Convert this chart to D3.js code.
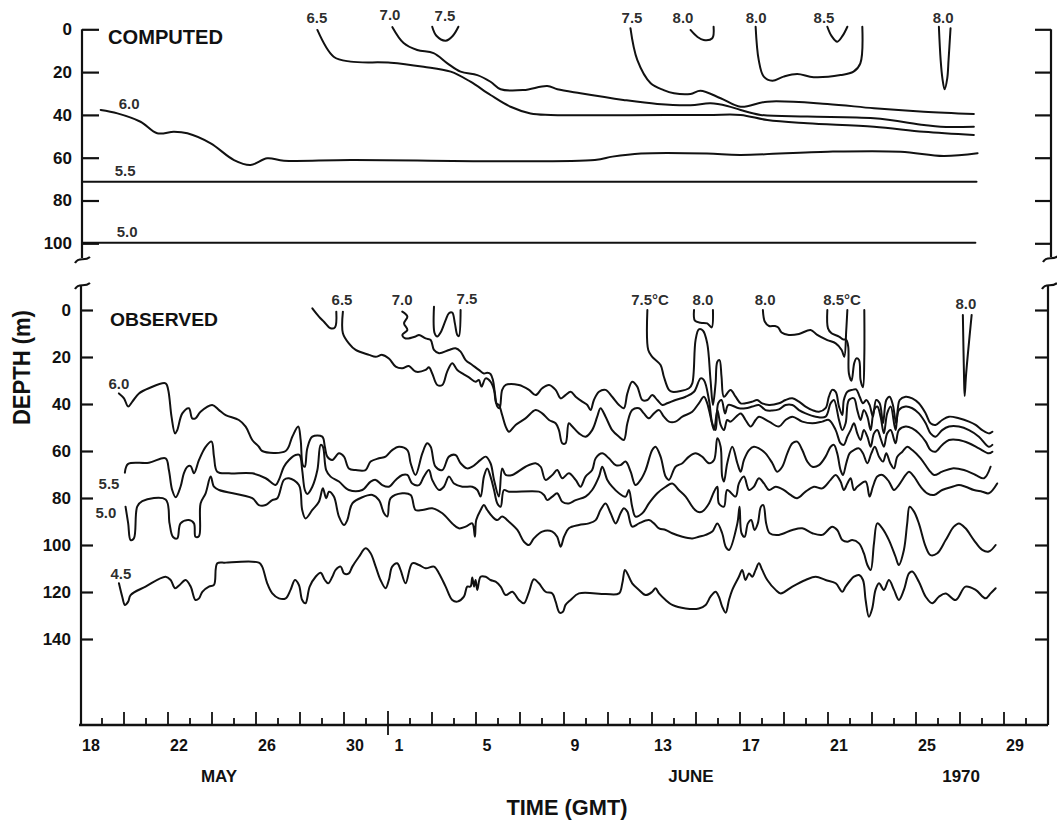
<!DOCTYPE html>
<html>
<head>
<meta charset="utf-8">
<title>Isotherm depths, computed and observed</title>
<script src="https://cdnjs.cloudflare.com/ajax/libs/d3/7.8.5/d3.min.js"></script>
<style>
    body { margin:0; background:white; }
    svg text { font-family:"Liberation Sans", Arial, sans-serif; fill:#111; }
    .iso { fill:none; stroke:#111; stroke-width:2; stroke-linejoin:round; stroke-linecap:round; }
    .frame { fill:none; stroke:#111; stroke-width:2.2; }
</style>
</head>
<body>
<div id="chart"></div>
<script>
// all series: [day since 18 May 1970 00:00 GMT, depth in m]

// ---- computed isotherms ----
var comp50 = [[0.15,99.7],[40.7,99.7]];
var comp55 = [[0.15,71.2],[40.75,71.2]];
var comp60 = [[0.94,37.7],[1.70,39.3],[2.75,43.2],[3.51,48.6],[4.27,47.9],[4.88,48.6],[5.94,53.3],[7.0,61.1],[7.75,63.4],[8.51,60.3],[9.27,61.4],[12.3,61.1],[23.4,61.1],[24.2,59.5],[25.5,58.0],[28.5,58.0],[30.0,58.7],[34.0,57.2],[37.3,57.2],[39.25,59.2],[40.8,57.9]];
var comp65 = [[10.79,0.3],[11.53,12.8],[12.3,15.1],[14.12,15.6],[15.62,17.5],[16.85,19.8],[17.75,24.5],[18.66,30.7],[19.57,36.2],[20.48,39.3],[21.39,40.0],[28.5,40.0],[30.03,40.0],[31.24,42.4],[33.06,43.9],[36.09,45.5],[38.36,47.9],[40.63,49.4]];
var comp70 = [[14.2,-1.0],[14.71,6.4],[15.33,9.7],[16.07,11.1],[16.7,15.9],[17.3,19.8],[18.06,21.4],[18.66,24.5],[19.12,28.0],[20.16,28.4],[21.24,26.5],[21.7,28.0],[22.75,29.9],[24.7,33.0],[26.24,34.9],[27.75,35.5],[28.66,34.6],[29.42,35.8],[30.03,37.7],[30.94,40.0],[33.06,40.8],[36.09,41.6],[38.36,44.7],[39.12,45.5],[40.63,45.5]];
var comp75a = [[16.01,-1.2],[16.2,3.0],[16.62,5.3],[16.94,3.1],[17.2,-1.2]];
var comp75b = [[25.02,-0.5],[25.33,14.3],[25.94,25.2],[26.53,28.4],[27.0,29.9],[27.75,30.2],[28.2,28.7],[29.12,32.2],[30.03,36.2],[31.24,33.8],[33.97,34.9],[36.09,36.9],[38.36,38.5],[40.63,39.6]];
var comp80a = [[27.75,0.3],[28.07,3.6],[28.35,5.0],[28.74,4.2],[28.8,-1.2]];
var comp80b = [[30.71,-1.2],[30.85,14.3],[31.08,22.1],[31.47,24.0],[31.98,22.1],[32.6,20.9],[33.35,22.4],[34.57,21.4],[35.16,19.8],[35.47,15.9],[35.56,-1.2]];
var comp85 = [[33.97,-1.2],[34.16,3.1],[34.42,5.8],[34.66,3.1],[34.88,-1.2]];
var comp80c = [[39.04,-1.2],[39.12,14.3],[39.2,22.9],[39.3,28.0],[39.42,22.9],[39.48,14.3],[39.57,-0.5]];

// ---- observed isotherms ----
var obs45 = [[1.77,116.3],[1.92,122.0],[2.04,125.5],[2.19,124.1],[2.30,121.3],[2.98,117.7],[3.89,113.5],[4.12,114.9],[4.32,118.4],[4.53,117.0],[4.80,114.9],[5.03,117.7],[5.25,123.4],[5.41,122.7],[5.56,119.9],[5.86,117.7],[6.09,117.0],[6.24,107.8],[6.62,107.5],[8.13,107.5],[8.28,109.2],[8.51,116.3],[8.74,120.6],[9.04,122.7],[9.35,122.7],[9.57,119.1],[9.77,114.9],[9.95,117.0],[10.10,123.4],[10.25,124.8],[10.44,117.7],[10.71,113.5],[10.94,111.8],[11.13,114.9],[11.28,116.3],[11.47,113.5],[11.62,110.6],[11.85,109.2],[12.00,112.1],[12.22,112.1],[12.38,109.2],[12.68,105.0],[12.98,101.4],[13.21,103.5],[13.44,109.2],[13.66,114.9],[13.89,118.4],[14.04,114.9],[14.19,109.2],[14.42,107.8],[14.57,110.6],[14.80,116.3],[15.10,107.8],
    [15.41,108.5],[15.71,109.9],[16.09,109.2],[16.32,112.1],[16.62,117.7],[16.92,123.4],[17.15,124.1],[17.45,122.0],[17.60,117.7],[17.75,117.7],[17.83,113.8],[17.91,117.7],[17.98,114.9],[18.06,119.1],[18.21,113.5],[18.44,113.5],[18.66,114.9],[18.89,115.6],[19.12,117.7],[19.35,121.3],[19.65,119.9],[19.95,123.4],[20.18,124.8],[20.41,119.9],[20.63,114.6],[20.86,116.3],[21.16,119.9],[21.47,120.6],[21.62,124.1],[21.80,128.8],[21.95,128.4],[22.07,125.5],[22.30,123.4],[22.68,120.6],[23.89,120.9],[24.50,120.6],[24.65,116.3],[24.77,110.6],[24.88,112.1],[25.10,116.3],[25.41,119.1],[25.71,121.3],[26.01,119.9],[26.16,118.4],[26.32,120.6],[26.62,123.4],[26.92,125.5],[27.53,127.0],[28.13,127.0],[28.44,125.5],[28.66,122.0],[28.89,119.9],[29.04,122.0],[29.19,126.2],[29.35,128.8],[29.50,123.4],[29.65,119.1],
    [29.95,113.5],[30.10,110.6],[30.25,114.9],[30.41,112.1],[30.56,113.5],[30.71,110.6],[30.86,107.8],[31.01,110.6],[31.24,114.9],[31.62,119.1],[31.85,120.6],[32.38,117.7],[32.98,114.9],[33.44,113.5],[33.89,114.9],[34.35,116.3],[34.65,119.9],[34.80,117.7],[35.03,114.9],[35.18,113.5],[35.41,112.8],[35.59,114.9],[35.71,123.4],[35.86,130.5],[36.01,127.0],[36.16,119.1],[36.32,116.3],[36.54,119.1],[36.77,114.9],[37.00,119.1],[37.22,123.4],[37.45,119.1],[37.68,112.1],[37.83,111.3],[38.13,115.6],[38.44,122.0],[38.74,124.8],[39.04,122.0],[39.35,120.6],[39.80,123.4],[40.25,117.7],[40.71,119.1],[41.16,122.7],[41.39,120.6],[41.62,118.4]];
var obs50 = [[2.07,83.7],[2.19,90.8],[2.30,97.9],[2.45,97.2],[2.60,83.7],[2.83,81.3],[3.89,80.6],[4.07,90.8],[4.22,96.5],[4.42,97.2],[4.57,90.8],[4.95,89.4],[5.18,90.8],[5.25,96.5],[5.41,96.2],[5.48,82.3],[5.71,78.0],[5.94,70.9],[6.09,75.2],[6.32,76.6],[7.83,80.1],[8.13,83.0],[8.44,83.0],[8.74,80.9],[8.97,80.1],[9.27,72.3],[9.50,71.6],[9.95,74.5],[10.10,85.1],[10.25,88.7],[10.56,85.1],[10.86,81.6],[11.04,75.9],[11.19,80.1],[11.32,77.3],[11.54,79.4],[11.77,87.9],[12.00,91.5],[12.15,89.4],[12.38,82.3],[12.83,79.7],[13.29,78.7],[13.59,80.9],[13.82,86.5],[13.97,87.9],[14.12,80.1],[14.65,78.0],[15.03,78.7],[15.25,85.1],
    [15.56,85.1],[16.01,84.4],[16.47,86.5],[16.92,90.8],[17.22,92.9],[17.53,92.2],[17.83,90.8],[17.95,96.5],[18.01,89.4],[18.21,85.1],[18.36,83.0],[18.51,85.1],[18.74,87.9],[18.97,89.4],[19.19,87.9],[19.50,90.1],[19.88,93.6],[20.18,98.6],[20.41,100.0],[20.63,97.2],[21.01,94.3],[21.47,94.3],[21.69,96.5],[21.85,100.7],[22.00,96.5],[22.22,92.9],[22.68,91.5],[23.13,90.8],[23.44,89.4],[23.66,85.1],[23.89,82.3],[24.12,86.5],[24.35,90.8],[24.57,86.5],[24.72,84.4],[24.88,85.8],[25.10,92.2],[25.41,90.8],[25.86,89.4],[26.09,90.8],[26.32,92.9],[26.62,93.6],[26.92,95.0],[27.38,96.5],[27.83,97.2],[28.13,96.5],[28.44,95.7],[28.74,94.3],[28.97,90.8],[29.19,95.0],[29.35,100.7],[29.50,102.1],
    [29.88,90.8],[29.98,83.7],[30.07,95.0],[30.21,96.5],[30.36,90.8],[30.51,89.4],[30.66,93.6],[30.81,90.8],[30.95,83.7],[31.06,83.0],[31.19,90.8],[31.35,95.0],[31.77,95.7],[32.38,93.6],[32.83,92.9],[33.29,95.0],[33.74,95.7],[34.19,92.2],[34.42,93.6],[34.65,97.9],[34.88,98.6],[35.10,97.9],[35.41,99.3],[35.63,103.5],[35.79,108.5],[35.94,110.6],[36.09,99.3],[36.24,90.8],[36.47,92.9],[36.77,97.9],[37.07,105.0],[37.22,108.5],[37.45,102.1],[37.60,90.8],[37.71,83.7],[37.91,85.8],[38.13,90.8],[38.44,100.7],[38.66,104.3],[38.97,103.5],[39.35,97.9],[39.72,92.2],[39.95,90.8],[40.25,92.9],[40.63,97.9],[41.01,102.1],[41.31,102.8],[41.62,100.0]];
var obs55 = [[2.04,69.2],[2.19,65.5],[3.13,65.0],[3.89,63.1],[4.04,68.1],[4.19,76.6],[4.35,79.7],[4.57,75.2],[4.72,69.5],[4.88,66.7],[5.03,66.4],[5.18,69.5],[5.41,63.8],[5.71,58.2],[5.98,56.0],[6.09,62.4],[6.24,68.8],[6.77,69.5],[7.83,69.5],[8.44,71.6],[8.89,74.5],[9.04,72.3],[9.27,66.7],[9.50,63.8],[9.80,61.7],[9.98,61.7],[10.10,68.1],[10.22,76.6],[10.33,78.3],[10.56,75.2],[10.79,68.1],[10.94,57.4],[11.04,58.2],[11.19,68.1],[11.39,70.9],[11.77,73.0],[12.22,76.6],[12.83,76.6],[13.21,73.0],[13.44,72.3],[13.74,74.5],[14.04,75.2],[14.35,72.3],[14.65,70.2],[14.88,70.2],[15.10,73.8],
    [15.41,74.5],[15.63,70.9],[15.86,68.1],[16.01,72.3],[16.32,76.6],[16.54,75.2],[16.77,70.9],[17.00,73.8],[17.38,75.2],[17.83,75.2],[18.06,76.6],[18.21,79.4],[18.36,70.9],[18.51,67.4],[18.66,70.9],[18.82,76.6],[18.97,82.3],[19.12,83.7],[19.27,76.6],[19.50,77.3],[20.86,77.3],[21.09,78.7],[21.24,80.9],[21.47,79.4],[21.69,78.0],[21.92,81.6],[22.22,82.3],[22.53,80.9],[22.98,79.4],[23.28,76.6],[23.59,70.9],[23.74,66.7],[23.97,72.3],[24.19,75.2],[24.50,78.0],[24.80,79.4],[24.95,76.6],[25.10,83.7],[25.25,87.9],[25.56,86.5],[25.86,82.3],[26.24,78.0],[26.62,75.2],[26.92,73.8],[27.22,76.6],[27.53,79.4],[27.83,83.7],[28.06,85.8],[28.28,85.8],[28.59,82.3],[28.82,77.3],[28.97,75.2],[29.04,82.3],[29.27,83.7],[29.42,76.6],
    [29.80,79.4],[29.95,73.8],[30.18,70.9],[30.41,76.6],[30.63,75.2],[30.86,71.6],[31.09,73.8],[31.32,76.6],[31.62,75.2],[32.00,76.6],[32.30,78.7],[32.60,80.1],[32.98,77.3],[33.36,75.2],[33.74,75.9],[34.12,72.3],[34.35,70.2],[34.57,73.0],[34.72,76.6],[34.88,73.8],[35.03,71.6],[35.18,76.6],[35.33,75.2],[35.71,73.0],[35.89,79.4],[36.04,75.2],[36.24,70.9],[36.47,70.2],[36.77,73.0],[37.00,76.6],[37.22,74.5],[37.53,70.2],[37.68,68.8],[37.91,70.9],[38.21,75.2],[38.51,78.0],[38.82,78.7],[39.19,76.6],[39.65,75.2],[39.95,74.5],[40.25,75.2],[40.63,76.6],[41.01,77.3],[41.31,78.0],[41.69,73.8]];
var obs60 = [[1.77,35.5],[2.00,37.6],[2.19,41.1],[2.38,39.0],[2.68,35.5],[3.13,33.3],[3.89,31.2],[4.01,34.0],[4.16,45.4],[4.32,52.5],[4.42,51.1],[4.65,44.0],[4.95,41.8],[5.10,46.1],[5.25,46.1],[5.48,43.3],[6.01,40.4],[6.32,42.6],[6.62,44.7],[7.22,46.8],[7.53,49.6],[7.83,55.3],[8.13,58.2],[8.28,60.0],[9.35,60.0],[9.65,53.9],[9.92,49.6],[10.03,55.3],[10.13,66.0],[10.22,66.7],[10.33,58.9],[10.56,53.9],[11.01,53.9],[11.13,58.2],[11.24,62.4],[11.47,63.8],[11.77,61.0],[12.00,62.4],[12.22,67.4],[12.53,68.1],[12.98,68.1],[13.21,64.5],[13.59,63.1],[13.89,62.4],[14.19,59.6],[14.50,58.2],[14.88,59.6],[15.03,65.2],[15.25,70.2],
    [15.56,61.0],[15.78,56.7],[15.94,58.2],[16.16,66.7],[16.47,68.1],[16.77,62.4],[17.07,61.7],[17.30,65.2],[17.60,67.4],[17.83,66.7],[18.21,63.8],[18.44,62.4],[18.66,65.2],[18.82,72.3],[19.04,79.4],[19.19,67.4],[19.35,70.2],[19.65,70.2],[20.25,66.7],[20.71,65.2],[20.94,66.7],[21.16,72.3],[21.47,70.2],[21.69,68.1],[21.92,71.6],[22.22,69.5],[22.53,72.3],[22.75,75.2],[22.98,70.9],[23.28,68.1],[23.44,63.1],[23.74,61.0],[24.04,63.1],[24.35,66.0],[24.57,66.0],[24.80,64.5],[25.03,68.8],[25.25,74.5],[25.48,72.3],[25.71,68.1],[26.01,59.6],[26.16,58.2],[26.39,62.4],[26.62,70.9],[26.77,72.3],[27.07,66.7],[27.38,65.2],[27.68,62.4],[27.98,61.0],[28.28,62.4],[28.59,65.2],[28.82,63.8],[28.97,54.6],[29.12,58.2],[29.19,70.9],[29.27,73.0],[29.42,65.2],
    [29.65,58.2],[29.88,65.2],[30.03,68.8],[30.18,63.8],[30.41,59.6],[30.63,58.2],[30.86,58.9],[31.16,61.0],[31.47,65.2],[31.69,68.8],[31.92,66.7],[32.15,61.0],[32.38,56.7],[32.60,56.0],[32.83,59.6],[33.06,64.5],[33.29,66.7],[33.59,66.0],[33.89,62.4],[34.12,58.2],[34.27,57.4],[34.42,61.0],[34.57,68.1],[34.68,70.2],[34.83,65.2],[34.98,61.0],[35.18,59.6],[35.41,58.9],[35.59,61.0],[35.79,65.2],[35.97,61.0],[36.13,58.2],[36.32,62.4],[36.50,64.5],[36.65,61.0],[36.83,65.2],[37.00,67.4],[37.15,62.4],[37.38,60.3],[37.60,58.2],[37.83,59.6],[38.21,63.1],[38.59,68.1],[38.82,70.2],[39.19,68.8],[39.65,67.4],[40.18,68.1],[40.71,70.2],[41.09,71.6],[41.39,66.7]];
var obs65a = [[10.56,-0.7],[10.86,2.8],[11.09,5.0],[11.39,7.8],[11.59,7.4],[11.65,0.7]];
var obs65 = [[11.95,0.7],[11.95,9.9],[12.22,14.2],[12.53,17.0],[13.14,19.1],[13.44,19.9],[13.74,19.1],[14.04,20.6],[14.35,24.1],[14.65,24.8],[14.95,23.8],[15.25,26.2],
    [15.71,25.5],[15.86,24.4],[16.01,27.0],[16.24,31.9],[16.47,31.9],[16.69,26.2],[16.92,22.7],[17.15,25.5],[17.38,27.0],[17.68,28.7],[17.98,30.5],[18.13,29.8],[18.25,32.6],[18.44,29.1],[18.66,30.5],[18.82,34.0],[18.92,39.7],[19.04,40.4],[19.19,44.7],[19.35,49.6],[19.50,51.8],[19.80,48.9],[20.25,46.1],[20.71,42.6],[21.01,44.0],[21.32,46.8],[21.62,48.2],[21.77,51.1],[21.92,56.7],[22.07,56.7],[22.22,48.2],[22.38,49.6],[22.68,52.5],[22.98,53.9],[23.28,51.1],[23.51,45.4],[23.66,41.8],[23.89,45.4],[24.19,51.1],[24.50,53.9],[24.72,55.3],[24.88,48.2],[25.10,42.6],[25.41,41.8],[25.63,44.0],[25.86,46.1],[26.09,44.0],[26.32,42.6],[26.54,45.4],[26.77,47.5],[27.07,47.5],[27.38,45.4],[27.83,43.3],[28.13,39.7],[28.36,36.9],[28.51,39.7],[28.66,45.4],[28.82,51.1],[28.97,42.6],[29.12,48.9],[29.27,51.1],[29.42,46.8],[29.57,47.5],
    [30.03,44.0],[30.25,46.8],[30.48,49.6],[30.71,46.8],[30.86,45.4],[31.32,47.5],[31.77,49.6],[32.07,46.8],[32.38,45.4],[32.83,47.5],[33.29,48.2],[33.74,47.5],[34.04,46.8],[34.35,51.1],[34.57,56.7],[34.72,57.4],[34.88,53.9],[35.03,51.1],[35.18,48.2],[35.33,52.5],[35.48,55.3],[35.63,51.1],[35.79,53.9],[35.94,58.2],[36.09,52.5],[36.24,51.1],[36.39,54.6],[36.54,58.2],[36.69,52.5],[36.85,51.1],[37.07,56.7],[37.22,51.1],[37.53,49.6],[37.83,50.4],[38.13,52.5],[38.44,56.0],[38.66,59.6],[38.89,60.3],[39.19,57.4],[39.50,55.3],[39.95,55.3],[40.41,56.7],[40.86,58.9],[41.31,61.0],[41.47,60.3]];
var obs70 = [[14.65,0.7],[14.88,2.8],[14.73,5.7],[14.88,8.5],[14.65,10.6],[14.80,12.1],[15.25,11.3],
    [15.41,10.6],[15.71,12.1],[15.94,12.8],[16.09,17.0],[16.32,18.4],[16.77,17.0],[17.07,16.3],[17.30,17.7],[17.53,21.3],[17.83,23.4],[18.13,25.5],[18.36,27.0],[18.51,26.7],[18.66,27.2],[18.77,29.8],[18.86,35.5],[18.97,41.1],[19.07,41.8],[19.19,34.0],[19.35,31.9],[19.95,31.9],[20.41,34.0],[20.71,36.2],[21.01,33.3],[21.32,31.9],[21.62,34.0],[21.85,37.6],[22.07,36.2],[22.30,34.8],[22.53,36.9],[22.83,39.0],[23.06,40.4],[23.21,42.6],[23.36,38.3],[23.59,34.8],[23.89,34.0],[24.19,36.9],[24.50,40.4],[24.72,41.8],[24.88,35.5],[25.10,30.5],[25.33,32.6],[25.56,38.3],[25.79,38.3],[26.01,36.2],[26.24,38.3],[26.47,40.4],[26.69,39.7],[27.07,38.3],[27.53,36.9],[27.91,34.8],[28.21,29.1],[28.36,29.8],[28.59,38.3],[28.74,48.2],[28.89,51.1],[29.01,39.7],[29.16,38.3],[29.32,44.0],[29.47,40.4],
    [29.95,41.8],[30.25,41.8],[30.56,41.1],[30.86,40.4],[31.16,42.6],[31.47,42.8],[31.77,42.3],[32.07,40.4],[32.38,40.4],[32.68,42.6],[32.98,44.0],[33.44,45.4],[33.89,45.4],[34.12,39.7],[34.27,38.3],[34.50,46.8],[34.65,51.1],[34.80,48.2],[34.95,38.3],[35.18,37.6],[35.33,42.6],[35.48,46.8],[35.63,42.6],[35.79,45.4],[35.94,51.1],[36.09,42.6],[36.24,41.1],[36.39,45.4],[36.54,52.5],[36.69,44.0],[36.85,41.1],[37.07,51.1],[37.22,42.6],[37.53,41.1],[37.83,41.8],[38.13,44.0],[38.44,48.2],[38.66,52.5],[38.89,53.9],[39.19,51.1],[39.50,49.6],[39.95,49.6],[40.41,51.1],[40.86,53.9],[41.31,58.2],[41.47,57.4]];
var obs75a = [[16.09,-1.4],[16.12,9.9],[16.24,11.3],[16.39,9.6],[16.62,4.3],[16.77,1.4],[16.92,1.1],[17.04,5.7],[17.15,10.6],[17.22,11.1],[17.30,0]];
var obs75 = [[25.79,0],[25.83,17.0],[26.01,19.9],[26.39,23.4],[26.54,28.4],[26.77,34.0],[26.92,34.8],[27.68,33.3],[27.83,31.2],[27.98,12.8],[28.13,8.2],[28.32,8.8],[28.51,14.2],[28.66,29.8],[28.77,40.4],[28.89,31.2],[28.97,22.0],[29.07,21.3],[29.16,28.4],[29.27,36.9],
    [29.57,34.0],[29.80,36.9],[30.03,39.7],[30.25,39.7],[30.56,39.0],[30.78,38.3],[31.01,39.7],[31.32,40.4],[31.77,39.7],[32.07,38.3],[32.38,37.6],[32.68,39.0],[32.98,41.1],[33.29,42.6],[33.59,43.3],[33.89,41.8],[34.04,36.9],[34.19,34.0],[34.35,34.8],[34.50,41.1],[34.65,44.7],[34.72,38.3],[34.88,34.8],[35.10,34.0],[35.28,33.8],[35.44,36.9],[35.59,39.7],[35.74,38.3],[35.89,40.4],[36.04,45.4],[36.19,38.3],[36.35,39.7],[36.50,48.2],[36.65,38.3],[36.80,36.9],[36.95,40.4],[37.10,48.2],[37.26,38.3],[37.53,36.9],[37.83,37.6],[38.13,39.7],[38.44,44.0],[38.66,48.2],[38.89,48.9],[39.19,46.8],[39.50,45.4],[39.95,46.1],[40.41,47.5],[40.71,48.9],[41.01,51.1],[41.31,52.5],[41.47,51.8]];
var obs80a = [[27.91,0],[27.95,4.5],[28.21,5.4],[28.51,5.7],[28.71,7.4],[28.77,0]];
var obs80b = [[31.04,0],[31.13,5.0],[31.32,6.8],[31.59,6.8],[31.74,7.4],[31.89,9.6],[32.22,10.6],[32.68,10.2],[33.21,8.5],[33.51,10.6],[33.97,12.8],[34.35,14.2],[34.62,17.0],[34.74,19.9],[34.83,8.5],[34.88,0]];
var obs85 = [[33.97,0],[34.0,7.8],[34.16,9.9],[34.50,11.3],[34.68,12.5],[34.83,12.8],[34.92,15.6],[34.95,27.0],[35.07,30.1],[35.19,22.7],[35.29,20.6],[35.41,21.3],[35.48,29.8],[35.59,32.9],[35.65,19.9],[35.65,0]];
var obs80c = [[40.13,2.1],[40.18,27.0],[40.21,36.6],[40.28,27.0],[40.53,2.1]];

// isotherm labels: [text, day, depth]
var compLabels = [["6.5",10.77,-5.3],["7.0",14.09,-7.1],["7.5",16.59,-6.2],["7.5",25.09,-5.3],["8.0",27.41,-5.3],["8.0",30.73,-5.3],["8.5",33.82,-5.7],["8.0",39.23,-5.7],["6.0",2.23,34.9],["5.5",2.05,66.2],["5.0",2.14,94.3]];
var obsLabels = [["6.5",11.91,-4.3],["7.0",14.64,-4.3],["7.5",17.59,-4.7],["7.5°C",25.91,-4.3],["8.0",28.32,-4.3],["8.0",31.14,-4.3],["8.5°C",34.64,-4.3],["8.0",40.27,-2.6],["6.0",1.77,31.5],["5.5",1.32,74.0],["5.0",1.18,86.0],["4.5",1.86,112.3]];

// axis ticks
var compTicks = [0,20,40,60,80,100];
var obsTicks = [0,20,40,60,80,100,120,140];
var xLabelDates = ["1970-05-18","1970-05-22","1970-05-26","1970-05-30","1970-06-01","1970-06-05","1970-06-09","1970-06-13","1970-06-17","1970-06-21","1970-06-25","1970-06-29"];
var monthLabels = [["MAY",6.32],["JUNE",27.77],["1970",40.05]];

var t0 = Date.UTC(1970,4,18);
function toDate(d) { return new Date(t0 + d*864e5); }

var svg = d3.select('#chart').append('svg')
    .attr('width',1057)
    .attr('height',825);

var x = d3.scaleUtc().domain([toDate(0), toDate(44.1)]).range([80, 1050.2]);
var yComp = d3.scaleLinear().domain([0,100]).range([29.3, 243.3]);
var yObs = d3.scaleLinear().domain([0,140]).range([310, 639]);
var baseY = yObs(176.6);

function lineFor(y) {
    return d3.line()
        .x(function(p) { return x(toDate(p[0])); })
        .y(function(p) { return y(p[1]); })
        .curve(d3.curveCatmullRom.alpha(0.5));
}

// small wavy axis break mark
function breakMark(cx, cy) {
    return 'M' + (cx-7) + ',' + (cy+4) + ' C' + (cx-3) + ',' + (cy-3) + ' ' + (cx+2) + ',' + (cy+3) + ' ' + (cx+8) + ',' + (cy-2);
}

// ---- frame lines ----
var xl = 81;
svg.append('line').attr('class','frame').attr('x1',xl+1).attr('x2',xl+1).attr('y1',yComp(0)).attr('y2',258);
svg.append('path').attr('class','frame').attr('d',breakMark(xl+1,259));
svg.append('path').attr('class','frame').attr('d',breakMark(xl+1,285));
svg.append('line').attr('class','frame').attr('x1',xl).attr('x2',xl).attr('y1',285).attr('y2',baseY);
svg.append('line').attr('class','frame').attr('x1',1051).attr('x2',1051).attr('y1',yComp(0)).attr('y2',257);
svg.append('path').attr('class','frame').attr('d',breakMark(1050,258));
svg.append('path').attr('class','frame').attr('d',breakMark(1049,285));
svg.append('line').attr('class','frame').attr('x1',1048).attr('x2',1048).attr('y1',286).attr('y2',baseY);
svg.append('line').attr('class','frame').attr('x1',xl-2).attr('x2',1048).attr('y1',baseY).attr('y2',baseY).style('stroke-width',2.6);

// ---- y axes ----
function styleAxis(g) {
    g.select('.domain').remove();
    g.selectAll('.tick line').attr('stroke','#111').attr('stroke-width',2.2);
    g.selectAll('.tick text')
        .attr('font-family','"Liberation Sans", Arial, sans-serif')
        .attr('font-size',17)
        .attr('font-weight','bold')
        .attr('fill','#111');
}

svg.append('g').attr('transform','translate(' + (xl+1) + ',0)')
    .call(d3.axisLeft(yComp).tickValues(compTicks).tickSize(-17).tickPadding(10))
    .call(styleAxis);
svg.append('g').attr('transform','translate(' + xl + ',0)')
    .call(d3.axisLeft(yObs).tickValues(obsTicks).tickSize(-12).tickPadding(10))
    .call(styleAxis);
svg.append('g').attr('transform','translate(1051,0)')
    .call(d3.axisRight(yComp).tickValues(compTicks).tickSize(-16).tickFormat(''))
    .call(styleAxis);
svg.append('g').attr('transform','translate(1048,0)')
    .call(d3.axisRight(yObs).tickValues(obsTicks).tickSize(-13).tickFormat(''))
    .call(styleAxis);

// ---- time axis: a tick each day, taller on even days, month mark crossing the axis ----
var days = d3.utcDay.range(toDate(1), toDate(44));
svg.append('g').selectAll('line').data(days).enter().append('line')
    .attr('x1', function(d) { return x(d); })
    .attr('x2', function(d) { return x(d); })
    .attr('y1', function(d) { return d.getUTCDate() == 1 ? baseY+10 : baseY; })
    .attr('y2', function(d) {
        if (d.getUTCDate() == 1) return baseY-14;
        var i = Math.round((d - toDate(0)) / 864e5);
        return i % 2 == 0 ? baseY-13 : baseY-7;
    })
    .attr('stroke','#111').attr('stroke-width',1.8);

var parseDay = d3.utcParse('%Y-%m-%d');
svg.append('g').selectAll('text').data(xLabelDates).enter().append('text')
    .attr('x', function(d) { return x(d3.utcHour.offset(parseDay(d), 12)); })
    .attr('y', baseY + 26)
    .attr('text-anchor','middle')
    .attr('font-size',16)
    .attr('font-weight','bold')
    .text(function(d) { return d3.utcFormat('%-d')(parseDay(d)); });

svg.append('g').selectAll('text').data(monthLabels).enter().append('text')
    .attr('x', function(d) { return x(toDate(d[1])); })
    .attr('y', baseY + 57)
    .attr('text-anchor','middle')
    .attr('font-size',17)
    .attr('font-weight','bold')
    .text(function(d) { return d[0]; });

svg.append('text')
    .attr('x',567).attr('y',baseY + 90)
    .attr('text-anchor','middle')
    .attr('font-size',22)
    .attr('font-weight','bold')
    .attr('textLength',121).attr('lengthAdjust','spacingAndGlyphs')
    .text('TIME (GMT)');

svg.append('text')
    .attr('transform','translate(30,' + yObs(24.5) + ') rotate(-90)')
    .attr('text-anchor','middle')
    .attr('font-size',23)
    .attr('font-weight','bold')
    .attr('textLength',115).attr('lengthAdjust','spacingAndGlyphs')
    .text('DEPTH (m)');

// panel titles
svg.append('text').attr('x',108).attr('y',44)
    .attr('font-size',20).attr('font-weight','bold')
    .attr('textLength',115).attr('lengthAdjust','spacingAndGlyphs')
    .text('COMPUTED');
svg.append('text').attr('x',110).attr('y',326)
    .attr('font-size',19).attr('font-weight','bold')
    .attr('textLength',108).attr('lengthAdjust','spacingAndGlyphs')
    .text('OBSERVED');

// ---- isotherm lines ----
var computedSeries = [comp50, comp55, comp60, comp65, comp70, comp75a, comp75b, comp80a, comp80b, comp85, comp80c];
var observedSeries = [obs45, obs50, obs55, obs60, obs65a, obs65, obs70, obs75a, obs75, obs80a, obs80b, obs85, obs80c];

svg.append('g').selectAll('path').data(computedSeries).enter().append('path')
    .attr('class','iso')
    .attr('d', lineFor(yComp));
svg.append('g').selectAll('path').data(observedSeries).enter().append('path')
    .attr('class','iso')
    .attr('d', lineFor(yObs));

// ---- isotherm labels ----
function addLabels(list, y) {
    svg.append('g').selectAll('text').data(list).enter().append('text')
        .attr('x', function(d) { return x(toDate(d[1])); })
        .attr('y', function(d) { return y(d[2]); })
        .attr('dy','0.36em')
        .attr('text-anchor','middle')
        .attr('font-size',15)
        .attr('font-weight','bold')
        .attr('fill-opacity',0.9)
        .text(function(d) { return d[0]; });
}
addLabels(compLabels, yComp);
addLabels(obsLabels, yObs);
</script>
</body>
</html>
